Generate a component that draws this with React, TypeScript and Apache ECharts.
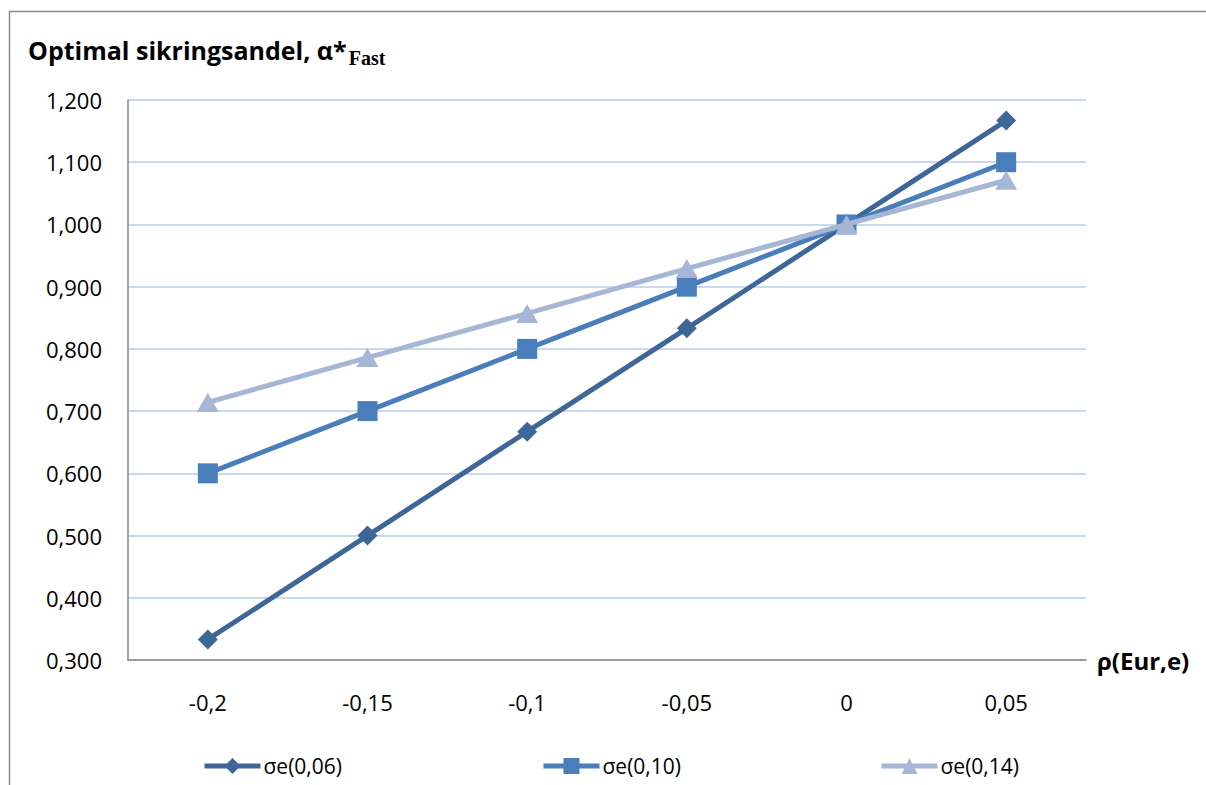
import React, { useEffect, useRef } from "react";
import * as echarts from "echarts";

const categories = ["-0,2", "-0,15", "-0,1", "-0,05", "0", "0,05"];
const seriesNames = ["σe(0,06)", "σe(0,10)", "σe(0,14)"];
const s006 = [0.333, 0.5, 0.667, 0.833, 1.0, 1.167];
const s010 = [0.6, 0.7, 0.8, 0.9, 1.0, 1.1];
const s014 = [0.714, 0.786, 0.857, 0.929, 1.0, 1.071];
const yMin = 0.3;
const yMax = 1.2;
const yStep = 0.1;
const titleMain = "Optimal sikringsandel, α*";
const titleSub = "Fast";
const xAxisName = "ρ(Eur,e)";

const FONT = "'Open Sans', Lato, sans-serif";
const SERIF = "'Liberation Serif', 'DejaVu Serif', serif";
const colors = ["#3E6699", "#4A7EBB", "#A6B7D6"];
const symbols = ["diamond", "rect", "triangle"];
const symbolSizes: any[] = [[20, 20], 20, [22, 19]];

function measure(text: string, font: string): number {
  const c = document.createElement("canvas");
  const ctx = c.getContext("2d");
  if (!ctx) return text.length * 12;
  ctx.font = font;
  return ctx.measureText(text).width;
}

export default function App() {
  const ref = useRef<HTMLDivElement>(null);
  useEffect(() => {
    if (!ref.current) return;
    const chart = echarts.init(ref.current, null, { renderer: "svg" });
    const data = [s006, s010, s014];
    const legendLefts = [202, 541, 879];
    const mainFont = "bold 25px 'Open Sans'";
    const mainW = measure(titleMain, mainFont);
    const titleX = 28;
    chart.setOption({
      animation: false,
      backgroundColor: "#ffffff",
      graphic: [
        {
          type: "line",
          shape: { x1: 9.5, y1: 11, x2: 9.5, y2: 790 },
          style: { stroke: "#8a8a8a", lineWidth: 1.5 },
          silent: true,
        },
        {
          type: "line",
          shape: { x1: 9, y1: 11.5, x2: 1210, y2: 11.5 },
          style: { stroke: "#8a8a8a", lineWidth: 1.5 },
          silent: true,
        },
        {
          type: "text",
          x: titleX,
          y: 50,
          style: {
            text: titleMain,
            fill: "#000",
            fontFamily: FONT,
            fontWeight: "bold",
            fontSize: 25,
            verticalAlign: "middle",
            align: "left",
          },
          silent: true,
        },
        {
          type: "text",
          x: titleX + mainW + 2,
          y: 58,
          style: {
            text: titleSub,
            fill: "#000",
            fontFamily: SERIF,
            fontWeight: "bold",
            fontSize: 20,
            verticalAlign: "middle",
            align: "left",
          },
          silent: true,
        },
      ],
      legend: seriesNames.map((n, i) => ({
        data: [n],
        left: legendLefts[i],
        top: 755,
        padding: 0,
        itemWidth: 56,
        itemHeight: 20,
        itemGap: 4,
        lineStyle: { width: 5 },
        textStyle: {
          fontFamily: FONT,
          fontSize: 21,
          lineHeight: 22,
          color: "#000",
          padding: [0, 0, 0, -2],
        },
      })),
      grid: { left: 128, right: 120, top: 100, bottom: 125 },
      xAxis: {
        type: "category",
        data: categories,
        boundaryGap: true,
        name: xAxisName,
        nameLocation: "end",
        nameGap: 11,
        nameTextStyle: {
          fontFamily: FONT,
          fontWeight: "bold",
          fontSize: 24,
          color: "#000",
        },
        axisLine: { lineStyle: { color: "#878787", width: 1.5 } },
        axisTick: { show: false },
        axisLabel: {
          fontFamily: FONT,
          fontSize: 22,
          color: "#000",
          margin: 31,
        },
        splitLine: { show: false },
      },
      yAxis: {
        type: "value",
        min: yMin,
        max: yMax,
        interval: yStep,
        axisLine: { show: true, lineStyle: { color: "#878787", width: 1.5 } },
        axisTick: { show: false },
        axisLabel: {
          fontFamily: FONT,
          fontSize: 22,
          color: "#000",
          margin: 26,
          formatter: (v: number) => v.toFixed(3).replace(".", ","),
        },
        splitLine: { lineStyle: { color: "#B9CDE5", width: 1.5 } },
      },
      series: data.map((d, i) => ({
        name: seriesNames[i],
        type: "line",
        data: d,
        symbol: symbols[i],
        symbolSize: symbolSizes[i],
        showAllSymbol: true,
        z: 2 + i,
        lineStyle: { color: colors[i], width: 5 },
        itemStyle: { color: colors[i] },
        emphasis: { disabled: true },
      })),
    });
    return () => chart.dispose();
  }, []);
  return (
    <div
      ref={ref}
      style={{ position: "absolute", left: 0, top: 0, width: 1206, height: 785 }}
    />
  );
}
